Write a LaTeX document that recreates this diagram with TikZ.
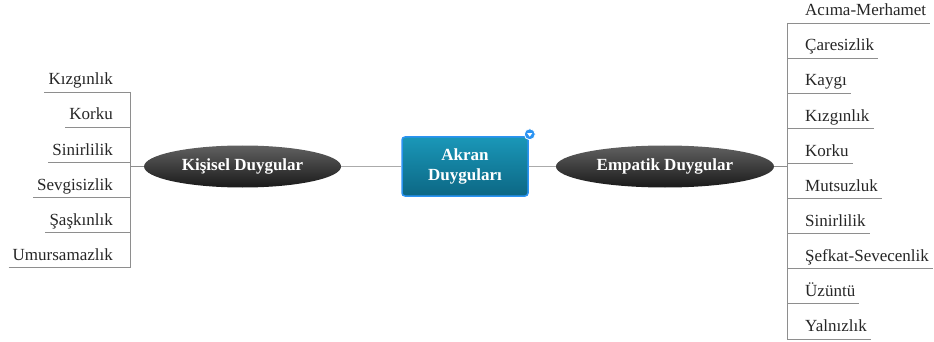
\documentclass[tikz,border=0pt]{standalone}
\usepackage{fontspec}
\setmainfont{Liberation Serif}
\usetikzlibrary{positioning,shapes.geometric}
\definecolor{rootTop}{HTML}{1A97B8}
\definecolor{rootBottom}{HTML}{0C6784}
\definecolor{rootLine}{HTML}{2B93F2}
\definecolor{mainLine}{HTML}{ABABAB}
\definecolor{treeLine}{HTML}{8E8E8E}
\tikzstyle{root}=[rectangle, draw=rootLine, line width=1.5pt, rounded corners=3pt,
        top color=rootTop, bottom color=rootBottom, text=white, align=center,
        font=\fontsize{17}{20}\selectfont\bfseries, minimum width=126pt, minimum height=59pt, inner sep=0pt]
\tikzstyle{group}=[ellipse, top color=black!62, bottom color=black!90, text=white,
        font=\fontsize{17}{20}\selectfont\bfseries, minimum height=42pt, inner sep=0pt]
\tikzstyle{leaf}=[text=black!85, font=\fontsize{17}{20}\selectfont, text height=12pt, text depth=3pt,
        inner xsep=4pt, inner ysep=4pt]
\tikzstyle{marker}=[circle, fill=rootLine, draw=white, line width=0.8pt, minimum size=11pt, inner sep=0pt]
\tikzstyle{branch}=[draw=mainLine, line width=1pt]
\tikzstyle{twig}=[draw=treeLine, line width=0.8pt]

\begin{document}
\begin{tikzpicture}[x=1pt, y=-1pt]
        \useasboundingbox (0,0) rectangle (934,342);

        % centre and the two groups
        \node (akran) [root] at (465,166.5) {Akran\\Duyguları};
        \node (mark) [marker] at ([xshift=1pt,yshift=2pt]akran.north east) {};
        \fill[white] ([xshift=-2.6pt,yshift=1.2pt]mark.center) -- ([xshift=2.6pt,yshift=1.2pt]mark.center)
                -- ([yshift=-2.4pt]mark.center) -- cycle;
        \node (kisisel) [group, minimum width=197pt, left=60pt of akran] {Kişisel Duygular};
        \node (empatik) [group, minimum width=218pt, right=27pt of akran] {Empatik Duygular};
        \draw[branch] (kisisel) -- (akran);
        \draw[branch] (akran) -- (empatik);
        \coordinate (tl) at ([xshift=-13pt]kisisel.west);
        \coordinate (tr) at ([xshift=13pt]empatik.east);
        \draw[twig] (kisisel) -- (tl);
        \draw[twig] (empatik) -- (tr);

        % Kisisel Duygular
        \node (k1) [leaf, anchor=south east] at (117,92) {Kızgınlık};
        \node (k2) [leaf, below=11.7pt of k1.south east, anchor=north east] {Korku};
        \node (k3) [leaf, below=11.7pt of k2.south east, anchor=north east] {Sinirlilik};
        \node (k4) [leaf, below=11.7pt of k3.south east, anchor=north east] {Sevgisizlik};
        \node (k5) [leaf, below=11.7pt of k4.south east, anchor=north east] {Şaşkınlık};
        \node (k6) [leaf, below=11.7pt of k5.south east, anchor=north east] {Umursamazlık};
        \foreach \n in {k1,k2,k3,k4,k5,k6}
          \draw[twig] (\n.south west) -- (\n.south west -| tl);
        \draw[twig] (k1.south west -| tl) -- (k6.south west -| tl);

        % Empatik Duygular
        \node (e1) [leaf, anchor=south west] at (801,23) {Acıma-Merhamet};
        \node (e2) [leaf, below=11.7pt of e1.south west, anchor=north west] {Çaresizlik};
        \node (e3) [leaf, below=11.7pt of e2.south west, anchor=north west] {Kaygı};
        \node (e4) [leaf, below=11.7pt of e3.south west, anchor=north west] {Kızgınlık};
        \node (e5) [leaf, below=11.7pt of e4.south west, anchor=north west] {Korku};
        \node (e6) [leaf, below=11.7pt of e5.south west, anchor=north west] {Mutsuzluk};
        \node (e7) [leaf, below=11.7pt of e6.south west, anchor=north west] {Sinirlilik};
        \node (e8) [leaf, below=11.7pt of e7.south west, anchor=north west] {Şefkat-Sevecenlik};
        \node (e9) [leaf, below=11.7pt of e8.south west, anchor=north west] {Üzüntü};
        \node (e10) [leaf, below=11.7pt of e9.south west, anchor=north west] {Yalnızlık};
        \foreach \n in {e1,e2,e3,e4,e5,e6,e7,e8,e9,e10}
          \draw[twig] (\n.south west -| tr) -- (\n.south east);
        \draw[twig] (e1.south west -| tr) -- (e10.south west -| tr);
\end{tikzpicture}
\end{document}
